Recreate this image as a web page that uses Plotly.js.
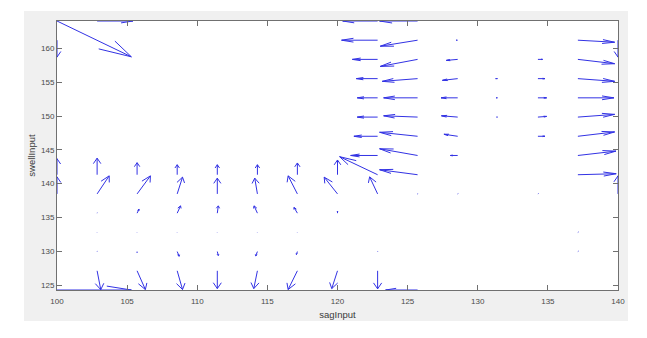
<!DOCTYPE html>
<html>
<head>
<meta charset="utf-8">
<script src="https://cdn.plot.ly/plotly-3.0.1.min.js"></script>
<style>
  html, body { margin: 0; padding: 0; background: #ffffff; }
  #quiver-chart { width: 647px; height: 338px; }
</style>
</head>
<body>
<div id="quiver-chart"></div>
<script>
// grid of the quiver plot (sagInput x swellInput)
const xGrid = [100, 102.86, 105.71, 108.57, 111.43, 114.29, 117.14, 120, 122.86, 125.71, 128.57, 131.43, 134.29, 137.14, 140];
const yGrid = [164.07, 161.23, 158.39, 155.54, 152.70, 149.85, 147.01, 144.17, 141.32, 138.48, 135.63, 132.79, 129.95, 127.10, 124.26];

// arrows: column / row index into the grid, and the drawn vector (u, v)
const arrowCol = [0, 0, 1, 8, 9, 14,
    8, 9, 10, 13,
    8, 9, 10, 12, 13,
    8, 9, 10, 11, 12, 13,
    8, 9, 10, 11, 12, 13,
    8, 9, 10, 11, 12, 13,
    8, 9, 10, 12, 13,
    8, 9, 10, 13,
    0, 1, 2, 3, 4, 5, 6, 7, 8, 9, 13,
    0, 1, 2, 3, 4, 5, 6, 7, 8, 9, 10, 12, 14,
    1, 2, 3, 4, 5, 6, 7,
    1, 2, 3, 4, 5, 6, 13,
    1, 2, 3, 4, 5, 6, 8, 13,
    1, 2, 3, 4, 5, 6, 7, 8,
    0, 9];
const arrowRow = [0, 1, 0, 0, 0, 1,
    1, 1, 1, 1,
    2, 2, 2, 2, 2,
    3, 3, 3, 3, 3, 3,
    4, 4, 4, 4, 4, 4,
    5, 5, 5, 5, 5, 5,
    6, 6, 6, 6, 6,
    7, 7, 7, 7,
    8, 8, 8, 8, 8, 8, 8, 8, 8, 8, 8,
    9, 9, 9, 9, 9, 9, 9, 9, 9, 9, 9, 9, 9,
    10, 10, 10, 10, 10, 10, 10,
    11, 11, 11, 11, 11, 11, 11,
    12, 12, 12, 12, 12, 12, 12, 12,
    13, 13, 13, 13, 13, 13, 13, 13,
    14, 14];
const arrowU = [5.30, 0, 2.55, -2.49, -2.71, 0,
    -2.57, -2.66, -0.11, 2.62,
    -1.80, -2.66, -0.81, 0.33, 2.62,
    -1.52, -2.52, -1.09, -0.15, 0.50, 2.62,
    -1.45, -2.42, -1.19, -0.12, 0.62, 2.57,
    -1.45, -2.42, -1.16, -0.08, 0.62, 2.62,
    -1.69, -2.71, -0.98, 0.50, 2.62,
    -1.92, -2.71, -0.52, 2.71,
    0, 0, 0, 0, 0, 0, 0, 0, -2.71, -2.71, 2.73,
    0, 0.86, 0.95, 0.38, 0, -0.19, -0.66, -0.95, -0.57, 0.03, 0.03, 0.03, 0,
    0.01, 0.14, 0.24, 0.07, -0.24, -0.24, 0,
    0.01, 0.01, 0.01, 0.01, 0.01, 0.01, 0.03,
    0.01, 0, 0.14, 0.07, -0.12, -0.07, 0.02, 0.03,
    0.26, 0.59, 0.38, 0, -0.26, -0.66, -0.41, 0,
    5.30, -2.28];
const arrowV = [-5.30, -2.50, 0, 0, 0, -2.50,
    0, -0.89, 0, -0.30,
    0, -1.04, -0.15, 0, -0.64,
    0, -0.40, -0.25, 0, 0, -0.40,
    0, 0, 0, 0, 0, 0,
    0, 0.19, 0.19, 0, 0.10, 0.40,
    0, 0.59, 0.30, 0, 0.64,
    0, 0.99, 0, 0.64,
    2.37, 2.45, 1.78, 1.48, 1.48, 1.48, 1.74, 2.18, 2.67, 0.74, 0.15,
    2.52, 2.67, 2.67, 2.48, 2.33, 2.33, 2.67, 2.48, 2.52, 0.04, 0.04, 0.04, 2.67,
    0.05, 0.59, 1.08, 1.08, 1.08, 0.85, 0.30,
    0.04, 0.04, 0.04, 0.04, 0.04, 0.04, 0.05,
    0.05, -0.15, -0.70, -0.59, -0.64, -0.44, 0.05, 0.05,
    -2.79, -2.77, -2.77, -2.63, -2.63, -2.77, -2.63, -2.67,
    0, 0];

displayQuiver();

function displayQuiver() {
    // same arrow shape as MATLAB quiver: head made in data units
    const alpha = 0.33;
    const beta = 0.33;
    const eps = 1e-9;
    const lineX = [];
    const lineY = [];

    for (let k = 0; k < arrowCol.length; k++) {
        const x = xGrid[arrowCol[k]];
        const y = yGrid[arrowRow[k]];
        const u = arrowU[k];
        const v = arrowV[k];

        lineX.push(x, x + u, null);
        lineY.push(y, y + v, null);

        lineX.push(x + u - alpha * (u + beta * (v + eps)), x + u, x + u - alpha * (u - beta * (v + eps)), null);
        lineY.push(y + v - alpha * (v - beta * (u + eps)), y + v, y + v - alpha * (v + beta * (u + eps)), null);
    }

    const chartData = [
        {
            x: lineX,
            y: lineY,
            mode: "lines",
            type: "scatter",
            hoverinfo: "skip",
            line: {
                color: "rgb(50,50,228)",
                width: 1,
            },
        }
    ];

    const axisStyle = {
        showgrid: false,
        zeroline: false,
        showline: true,
        mirror: "ticks",
        linecolor: "#707070",
        linewidth: 1,
        ticks: "inside",
        ticklen: 5,
        tickwidth: 1,
        tickcolor: "#707070",
        tickfont: {
            family: "Liberation Sans, Arial, sans-serif",
            size: 8,
            color: "#4a4a4a",
        },
        dtick: 5,
        tick0: 0,
        fixedrange: true,
    };

    const layout = {
        width: 647,
        height: 338,
        showlegend: false,
        paper_bgcolor: "#ffffff",
        plot_bgcolor: "#ffffff",
        margin: {
            l: 57,
            r: 29,
            t: 21,
            b: 48,
        },
        xaxis: Object.assign({}, axisStyle, {
            range: [100, 140],
            ticklabelstandoff: 3,
            title: {
                text: "sagInput",
                standoff: 6,
                font: { family: "Liberation Sans, Arial, sans-serif", size: 9.5, color: "#3a3a3a" },
            },
        }),
        yaxis: Object.assign({}, axisStyle, {
            range: [124.26, 164.07],
            title: {
                text: "swellInput",
                standoff: 3,
                font: { family: "Liberation Sans, Arial, sans-serif", size: 9.5, color: "#3a3a3a" },
            },
        }),
        shapes: [
            // light grey figure background, then white axes area
            {
                type: "rect", xref: "paper", yref: "paper", layer: "below",
                x0: -0.0588, x1: 1.0178, y0: -0.1152, y1: 1.0372,
                fillcolor: "#f0f0f0", line: { width: 0 },
            },
            {
                type: "rect", xref: "paper", yref: "paper", layer: "below",
                x0: 0, x1: 1, y0: 0, y1: 1,
                fillcolor: "#ffffff", line: { width: 0 },
            },
        ],
    };

    const chartDiv = document.getElementById("quiver-chart");

    Plotly.newPlot(chartDiv, chartData, layout, { staticPlot: true });
}
</script>
</body>
</html>
